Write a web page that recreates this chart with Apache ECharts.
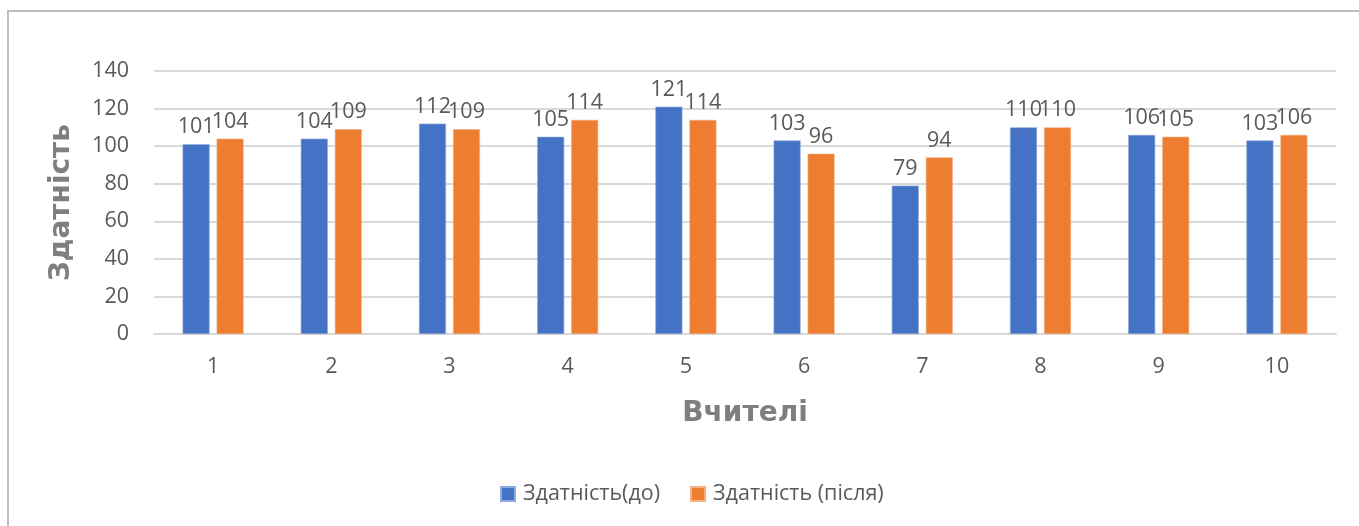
<!DOCTYPE html>
<html>
<head>
<meta charset="utf-8">
<script src="https://cdn.jsdelivr.net/npm/echarts@6/dist/echarts.min.js"></script>
<style>
  html, body { margin: 0; padding: 0; background: #fff; }
  #chart { width: 1359px; height: 526px; }
</style>
</head>
<body>
<div id="chart"></div>
<script>
// вчителі 1..10
const teachers = ['1', '2', '3', '4', '5', '6', '7', '8', '9', '10']
const before = [101, 104, 112, 105, 121, 103, 79, 110, 106, 103]
const after = [104, 109, 109, 114, 114, 96, 94, 110, 105, 106]
const yTicks = [0, 20, 40, 60, 80, 100, 120, 140]

const textColor = '#595959'
const baseFont = 'Open Sans'
const baseSize = 21.5

const chart = echarts.init(document.getElementById('chart'))

const labelStyle = {
  show: true,
  position: 'top',
  distance: 6,
  color: textColor,
  fontSize: baseSize,
  fontFamily: baseFont
}

chart.setOption({
  animation: false,
  graphic: [{
    type: 'rect',
    shape: { x: 8, y: 11, width: 1400, height: 600 },
    style: { fill: 'none', stroke: '#bfbfbf', lineWidth: 2 },
    silent: true
  }],
  legend: {
    left: 495,
    top: 478,
    itemWidth: 14,
    itemHeight: 14,
    itemGap: 30,
    icon: 'rect',
    textStyle: { color: textColor, fontSize: baseSize, fontFamily: baseFont, padding: [0, 0, 0, 3] }
  },
  grid: {
    left: 154,
    right: 23,
    top: 71,
    bottom: 192
  },
  xAxis: {
    type: 'category',
    data: teachers,
    name: 'Вчителі',
    nameLocation: 'middle',
    nameGap: 66,
    nameTextStyle: {
      color: '#7f7f7f',
      fontSize: 28,
      fontWeight: 'bold',
      fontFamily: 'DejaVu Sans'
    },
    axisLine: { lineStyle: { color: '#d9d9d9', width: 2 } },
    axisTick: { show: false },
    axisLabel: { color: textColor, fontSize: baseSize, fontFamily: baseFont, margin: 22 }
  },
  yAxis: {
    type: 'value',
    min: yTicks[0],
    max: yTicks[yTicks.length - 1],
    interval: yTicks[1] - yTicks[0],
    name: 'Здатність',
    nameLocation: 'middle',
    nameGap: 78,
    nameTextStyle: {
      color: '#7f7f7f',
      fontSize: 28,
      fontWeight: 'bold',
      fontFamily: 'DejaVu Sans'
    },
    axisLine: { show: false },
    axisTick: { show: false },
    axisLabel: { color: textColor, fontSize: baseSize, fontFamily: baseFont, margin: 25 },
    splitLine: { lineStyle: { color: '#d9d9d9', width: 2 } }
  },
  series: [{
    name: 'Здатність(до)',
    type: 'bar',
    data: before,
    barWidth: 27,
    barGap: '26%',
    itemStyle: { color: '#4472c4', borderColor: '#8faadc', borderWidth: 0.6 },
    label: labelStyle
  }, {
    name: 'Здатність (після)',
    type: 'bar',
    data: after,
    barWidth: 27,
    itemStyle: { color: '#ed7d31', borderColor: '#f4b183', borderWidth: 0.6 },
    label: labelStyle
  }]
})
</script>
</body>
</html>
